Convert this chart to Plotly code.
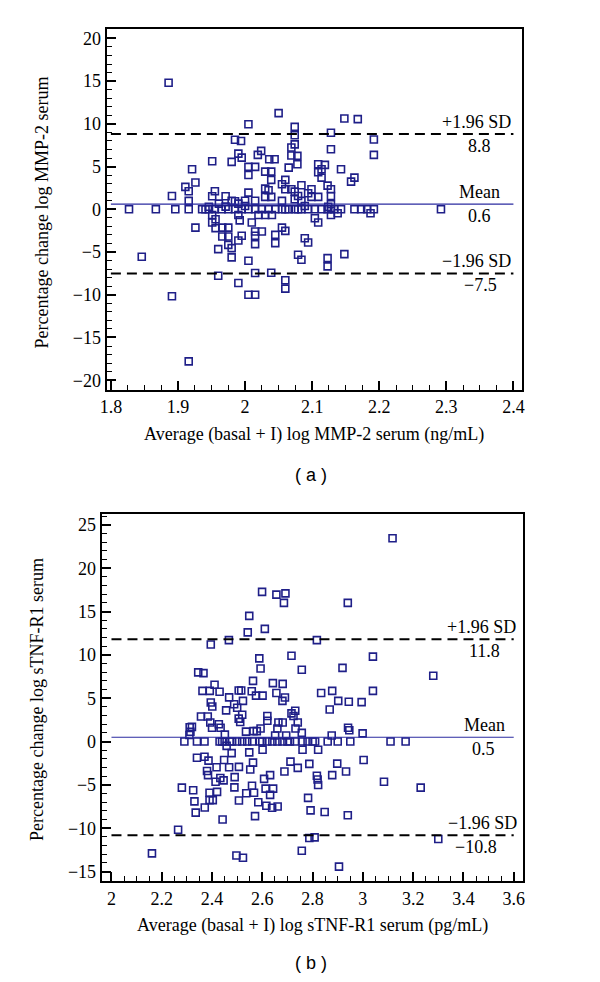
import plotly.graph_objects as go

# ---- panel (a): MMP-2 ----
mmp_upper_avg = [
    1.886, 2.050, 2.148, 2.168, 2.005, 2.074, 2.074, 2.128, 1.985, 1.994,
    2.074, 2.069, 2.128, 2.192, 2.192, 1.990, 1.995, 2.024, 2.019, 2.078,
    2.069, 2.036, 2.044, 1.951, 1.980, 2.078, 2.109, 2.119, 2.005, 2.015,
    1.921, 2.065, 2.109, 2.114, 2.143, 2.030, 2.039, 2.005, 2.114, 2.039,
    2.060, 2.163, 2.158, 1.926, 2.055, 1.911, 1.916, 2.123, 2.128, 2.069,
    2.060, 2.030, 2.035, 2.099, 2.094, 2.084, 1.955, 1.951, 1.891, 1.971,
    2.005, 2.039, 2.030, 2.099, 2.109, 2.128, 1.916, 2.055, 2.084, 2.074,
    2.074, 2.079, 1.980, 1.985, 2.000, 2.015, 1.990, 1.961, 2.128, 1.971,
    2.000, 2.089, 1.946, 2.124,
]
mmp_upper_pct = [
    14.8, 11.25, 10.63, 10.55, 9.96, 9.65, 8.67, 8.95, 8.13, 8.0,
    7.6, 7.23, 7.03, 8.16, 6.37, 6.52, 6.05, 6.84, 6.37, 6.25,
    6.29, 5.86, 5.86, 5.63, 5.55, 5.27, 5.27, 5.2, 4.96, 4.96,
    4.69, 4.88, 4.34, 4.69, 4.69, 4.41, 4.41, 4.02, 3.71, 3.44,
    3.44, 3.71, 3.24, 3.13, 2.93, 2.62, 2.11, 2.77, 2.34, 2.34,
    2.34, 2.42, 2.23, 2.34, 1.88, 2.81, 2.11, 1.52, 1.56, 1.52,
    1.95, 1.45, 1.45, 1.45, 1.45, 1.56, 0.98, 0.98, 0.98, 1.17,
    2.07, 1.56, 1.0, 0.95, 1.0, 1.0, 0.66, 0.66, 0.59, 0.31,
    0.39, 0.39, 0.3, 0.3,
]
mmp_zero_avg = [
    1.827, 1.867, 1.896, 1.916, 1.936, 1.941, 1.946, 1.955, 1.965, 1.975,
    1.985, 1.995, 2.005, 2.015, 2.025, 2.035, 2.045, 2.055, 2.060, 2.065,
    2.074, 2.079, 2.084, 2.094, 2.104, 2.114, 2.123, 2.128, 2.133, 2.143,
    2.163, 2.173, 2.182, 2.192, 2.292,
]
mmp_zero_pct = [
    0, 0, 0, 0, 0, 0, 0, 0, 0, 0,
    0, 0, 0, 0, 0, 0, 0, 0, 0, 0,
    0, 0, 0, 0, 0, 0, 0, 0, 0, 0,
    0, 0, 0, 0, 0,
]
mmp_lower_avg = [
    1.951, 1.951, 1.956, 1.956, 1.990, 1.992, 2.010, 2.104, 2.109, 2.128,
    2.138, 2.187, 1.926, 1.966, 1.975, 1.966, 1.975, 1.975, 1.980, 1.980,
    1.960, 1.990, 1.995, 2.015, 2.025, 2.015, 2.015, 2.045, 2.045, 2.055,
    2.060, 2.089, 2.094, 2.079, 2.084, 2.123, 2.123, 2.148, 1.846, 2.005,
    1.960, 2.015, 2.039, 1.990, 2.060, 2.060, 2.005, 2.015, 1.891, 1.916,
    2.020, 2.030, 2.040,
]
mmp_lower_pct = [
    -0.66, -1.55, -1.17, -2.2, -0.66, -1.3, -1.55, -1.05, -1.55, -0.66,
    -0.47, -0.47, -2.14, -2.14, -2.14, -3.18, -3.18, -4.16, -4.54, -5.63,
    -4.66, -3.65, -3.1, -2.6, -2.6, -3.1, -4.08, -2.99, -3.96, -2.14,
    -2.52, -3.38, -3.88, -5.32, -5.9, -5.71, -6.68, -5.24, -5.55, -6.02,
    -7.77, -7.46, -7.42, -8.62, -8.31, -9.28, -10.0, -10.0, -10.17, -17.79,
    -0.66, -0.66, -0.66,
]
mmp_limits = [8.8, 0.6, -7.5]        # +1.96 SD, mean, -1.96 SD
mmp_limit_text = ["8.8", "0.6", "\u22127.5"]
mmp_span = [1.8, 2.4]

# ---- panel (b): sTNF-R1 ----
tnf_upper_avg = [
    3.118, 2.599, 2.656, 2.692, 2.686, 2.940, 2.548, 2.542, 2.610, 2.395,
    2.467, 2.817, 2.588, 2.716, 3.040, 2.593, 2.757, 2.919, 2.345, 2.366,
    3.280, 2.563, 2.410, 2.642, 2.681, 2.362, 2.391, 2.430, 2.506, 2.516,
    2.558, 2.656, 2.834, 2.878, 3.040, 2.575, 2.601, 2.690, 2.468, 2.523,
    2.680, 2.902, 2.944, 2.995, 2.395, 2.401, 2.488, 2.500, 2.456, 2.868,
    2.731, 2.716, 2.724, 2.520, 2.356, 2.383, 2.506, 2.512, 2.620, 2.620,
    2.664, 2.681, 2.741, 2.393, 2.400, 2.427, 2.434, 2.311, 2.320, 2.314,
    2.593, 2.660, 2.732, 2.941, 2.946, 2.451, 2.535, 2.565, 2.578, 2.651,
    2.695, 2.757, 2.876, 2.999, 2.310,
]
tnf_upper_pct = [
    23.45, 17.27, 16.95, 17.1, 16.0, 16.0, 14.5, 12.6, 13.0, 11.2,
    11.7, 11.7, 9.6, 9.9, 9.8, 8.43, 8.28, 8.5, 7.98, 7.9,
    7.6, 7.0, 6.55, 6.74, 6.66, 5.85, 5.85, 5.74, 5.9, 5.9,
    5.8, 5.6, 5.6, 5.85, 5.85, 5.3, 5.3, 5.08, 5.1, 4.7,
    4.7, 4.7, 4.6, 4.55, 4.5, 4.05, 4.3, 3.9, 3.6, 3.7,
    3.55, 3.25, 2.95, 3.1, 2.9, 2.9, 2.65, 2.25, 2.95, 2.4,
    2.2, 2.2, 2.2, 2.2, 1.6, 2.0, 1.6, 1.65, 1.7, 1.13,
    1.5, 1.5, 1.5, 1.6, 1.3, 0.8, 1.15, 1.2, 1.2, 0.7,
    0.7, 1.0, 0.7, 0.95, 0.76,
]
tnf_zero_avg = [
    2.29, 2.34, 2.37, 2.43, 2.44, 2.45, 2.47, 2.48, 2.50, 2.52,
    2.54, 2.56, 2.59, 2.60, 2.62, 2.64, 2.66, 2.68, 2.70, 2.71,
    2.73, 2.76, 2.78, 2.80, 2.81, 2.86, 2.90, 2.95, 3.11, 3.17,
]
tnf_zero_pct = [
    0, 0, 0, 0, 0, 0, 0, 0, 0, 0,
    0, 0, 0, 0, 0, 0, 0, 0, 0, 0,
    0, 0, 0, 0, 0, 0, 0, 0, 0, 0,
]
tnf_lower_avg = [
    2.458, 2.478, 2.548, 2.601, 2.760, 2.822, 2.340, 2.370, 2.386, 2.448,
    2.563, 2.712, 3.003, 2.418, 2.468, 2.507, 2.552, 2.741, 2.787, 2.898,
    2.380, 2.384, 2.688, 2.933, 2.433, 2.414, 2.446, 2.490, 2.607, 2.631,
    2.817, 2.820, 2.822, 2.878, 2.280, 2.325, 2.489, 2.559, 2.613, 2.643,
    3.084, 3.230, 2.390, 2.420, 2.536, 2.567, 2.631, 2.330, 2.390, 2.403,
    2.507, 2.584, 2.616, 2.639, 2.661, 2.782, 2.371, 2.335, 2.571, 2.792,
    2.848, 2.940, 2.442, 2.265, 2.787, 2.808, 3.300, 2.161, 2.497, 2.523,
    2.757, 2.905,
]
tnf_lower_pct = [
    -0.5, -1.33, -1.25, -0.95, -0.95, -0.95, -1.86, -1.75, -2.2, -2.13,
    -2.43, -2.32, -2.13, -2.96, -2.96, -2.92, -3.23, -3.04, -2.58, -2.54,
    -3.4, -3.87, -3.46, -3.46, -4.2, -4.63, -4.48, -4.1, -4.3, -3.87,
    -3.95, -4.37, -5.01, -3.87, -5.32, -5.62, -5.28, -5.1, -5.43, -5.43,
    -4.63, -5.32, -5.9, -5.8, -5.96, -5.9, -6.15, -6.9, -6.76, -6.76,
    -6.8, -7.0, -7.4, -7.63, -7.5, -6.5, -7.6, -8.2, -8.6, -7.94,
    -8.13, -8.5, -9.0, -10.18, -11.13, -11.05, -11.24, -12.9, -13.14, -13.4,
    -12.6, -14.43,
]
tnf_limits = [11.8, 0.5, -10.8]
tnf_limit_text = ["11.8", "0.5", "\u221210.8"]
tnf_span = [2.0, 3.6]

W, H = 600, 982
navy = "#1f1f88"
serif = "Liberation Serif"
FS = 18


def px_x(p):
    return p / W


def px_y(p):
    return 1 - p / H


fig = go.Figure()


def add_panel(xs, ys, limits, limit_text, span, xa, ya, right_px):
    fig.add_trace(go.Scatter(
        x=xs, y=ys, mode="markers", xaxis=xa, yaxis=ya,
        marker=dict(symbol="square-open", size=7, color=navy,
                    line=dict(width=1.6, color=navy)),
        hoverinfo="skip"
    ))
    upper, mean, lower = limits
    for val, color, width, dash in [(upper, "black", 2, "10px,6px"),
                                    (mean, "#2b2ba0", 1.2, "solid"),
                                    (lower, "black", 2, "10px,6px")]:
        fig.add_trace(go.Scatter(
            x=span, y=[val, val], mode="lines", xaxis=xa, yaxis=ya,
            line=dict(color=color, width=width, dash=dash),
            hoverinfo="skip"
        ))

    # name above each line, value below it
    above = ["+1.96 SD", "Mean", "\u22121.96 SD"]
    for i, val in enumerate(limits):
        r_above, r_below = right_px[i]
        fig.add_annotation(
            text=above[i], xref="paper", x=px_x(r_above), xanchor="right",
            yref=ya, y=val, yanchor="bottom", showarrow=False,
            font=dict(family=serif, size=FS, color="black")
        )
        fig.add_annotation(
            text=limit_text[i], xref="paper", x=px_x(r_below), xanchor="right",
            yref=ya, y=val, yanchor="top", showarrow=False,
            font=dict(family=serif, size=FS, color="black")
        )


add_panel(mmp_upper_avg + mmp_zero_avg + mmp_lower_avg,
          mmp_upper_pct + mmp_zero_pct + mmp_lower_pct,
          mmp_limits, mmp_limit_text, mmp_span, "x", "y",
          [(506, 485), (494, 485), (506, 491)])

add_panel(tnf_upper_avg + tnf_zero_avg + tnf_lower_avg,
          tnf_upper_pct + tnf_zero_pct + tnf_lower_pct,
          tnf_limits, tnf_limit_text, tnf_span, "x2", "y2",
          [(511, 494), (499, 489), (512, 491)])


def axis(**kw):
    base = dict(
        showline=True, mirror=True, linecolor="black", linewidth=2,
        ticks="inside", ticklen=9, tickwidth=1.5, tickcolor="black",
        showgrid=False, zeroline=False,
        tickfont=dict(family=serif, size=FS, color="black"),
    )
    base.update(kw)
    return base


def minor(dt):
    return dict(ticks="inside", ticklen=5, tickwidth=1.2, tickcolor="black",
                dtick=dt, showgrid=False)


texts = [
    ("Percentage change log MMP-2 serum", 27, 205, -90, serif),
    ("Average (basal + I) log MMP-2 serum (ng/mL)", 304, 427, 0, serif),
    ("( a )", 300, 467, 0, "Liberation Sans"),
    ("Percentage change log sTNF-R1 serum", 23, 692, -90, serif),
    ("Average (basal + I) log sTNF-R1 serum (pg/mL)", 302, 918, 0, serif),
    ("( b )", 300, 956, 0, "Liberation Sans"),
]
for t, x, y, ang, fam in texts:
    fig.add_annotation(
        text=t, xref="paper", yref="paper", x=px_x(x), y=px_y(y),
        xanchor="center", yanchor="middle", textangle=ang, showarrow=False,
        font=dict(family=fam, size=FS, color="black")
    )

fig.update_layout(
    width=W, height=H, autosize=False,
    margin=dict(l=0, r=0, t=0, b=0),
    paper_bgcolor="white", plot_bgcolor="white",
    showlegend=False,
    xaxis=axis(domain=[px_x(93), px_x(515)], range=[1.7936, 2.4132],
               tick0=1.8, dtick=0.1, minor=minor(0.025), anchor="y"),
    yaxis=axis(domain=[px_y(382), px_y(21)], range=[-21.1, 21.1],
               tick0=0, dtick=5, minor=minor(1), anchor="x"),
    xaxis2=axis(domain=[px_x(88), px_x(516)], range=[1.961, 3.638],
                tick0=2, dtick=0.2, minor=minor(0.05), anchor="y2"),
    yaxis2=axis(domain=[px_y(874), px_y(507)], range=[-16.1, 26.2],
                tick0=0, dtick=5, minor=minor(1), anchor="x2"),
)

fig.write_html("out.html")
